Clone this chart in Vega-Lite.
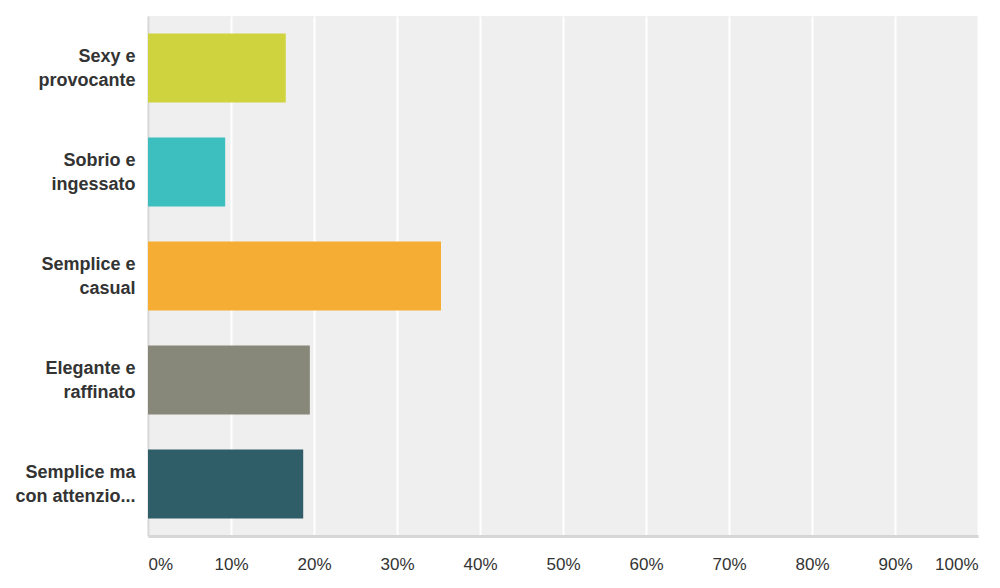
{
  "$schema": "https://vega.github.io/schema/vega-lite/v6.json",
  "width": 830,
  "height": 520,
  "autosize": {"type": "none"},
  "padding": {"left": 148, "top": 16, "right": 22, "bottom": 52},
  "background": "#ffffff",
  "config": {
    "view": {"fill": "#efefef", "stroke": null},
    "font": "Liberation Sans"
  },
  "data": {
    "values": [
      {"risposta": "Sexy e|provocante", "percentuale": 0.166, "colore": "#cfd33e"},
      {"risposta": "Sobrio e|ingessato", "percentuale": 0.093, "colore": "#3dbfbf"},
      {"risposta": "Semplice e|casual", "percentuale": 0.353, "colore": "#f5ad33"},
      {"risposta": "Elegante e|raffinato", "percentuale": 0.195, "colore": "#87887a"},
      {"risposta": "Semplice ma|con attenzio...", "percentuale": 0.187, "colore": "#2f5e68"}
    ]
  },
  "mark": {"type": "bar"},
  "encoding": {
    "y": {
      "field": "risposta",
      "type": "nominal",
      "sort": null,
      "scale": {"paddingInner": 0.335, "paddingOuter": 0.1675},
      "axis": {
        "title": null,
        "labelExpr": "split(datum.value, '|')",
        "labelFont": "Liberation Sans",
        "labelFontSize": 18,
        "labelFontWeight": "bold",
        "labelColor": "#333333",
        "labelLineHeight": 24,
        "labelPadding": 13,
        "labelOffset": -11,
        "labelLimit": 200,
        "ticks": false,
        "domainColor": "#d6d6d6",
        "domainWidth": 2,
        "grid": false
      }
    },
    "x": {
      "field": "percentuale",
      "type": "quantitative",
      "scale": {"domain": [0, 1], "nice": false},
      "axis": {
        "title": null,
        "format": ".0%",
        "values": [0, 0.1, 0.2, 0.3, 0.4, 0.5, 0.6, 0.7, 0.8, 0.9, 1],
        "labelFont": "Liberation Sans",
        "labelFontSize": 17,
        "labelColor": "#333333",
        "labelPadding": 20,
        "labelFlush": true,
        "ticks": false,
        "domainColor": "#d6d6d6",
        "domainWidth": 3,
        "grid": true,
        "gridColor": "#ffffff",
        "gridWidth": 2,
        "gridOpacity": 1
      }
    },
    "color": {"field": "colore", "type": "nominal", "scale": null, "legend": null}
  }
}
